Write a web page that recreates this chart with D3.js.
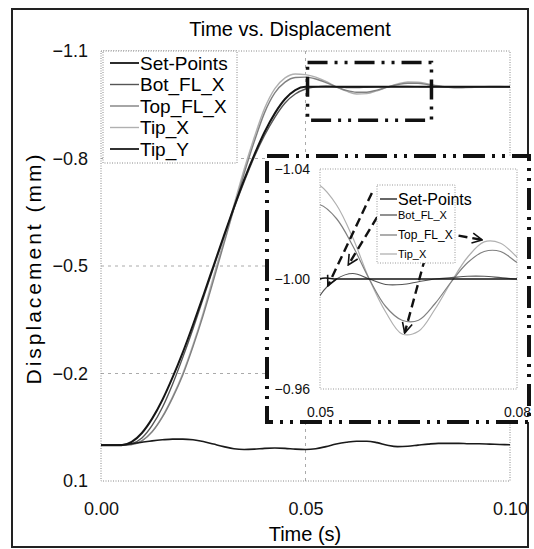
<!DOCTYPE html>
<html>
<head>
<meta charset="utf-8">
<script src="https://cdn.jsdelivr.net/npm/d3@7"></script>
<style>
  body { margin: 0; background: #fff; }
  svg { font-family: "Liberation Sans", Arial, sans-serif; }
</style>
</head>
<body>
<svg id="chart"></svg>
<script>
// time samples (s)
const times = [0, 0.0025, 0.005, 0.0075, 0.01, 0.0125, 0.015, 0.0175, 0.02, 0.0225,
  0.025, 0.0275, 0.03, 0.0325, 0.035, 0.0375, 0.04, 0.0425, 0.045, 0.0475,
  0.05, 0.0525, 0.055, 0.0575, 0.06, 0.0625, 0.065, 0.0675, 0.07, 0.0725,
  0.075, 0.0775, 0.08, 0.0825, 0.085, 0.0875, 0.09, 0.0925, 0.095, 0.0975, 0.1]

// displacement (mm) per series
const setPoints = [0, 0, 0, -0.009, -0.034, -0.074, -0.126, -0.189, -0.259, -0.336,
  -0.417, -0.5, -0.583, -0.664, -0.741, -0.811, -0.874, -0.926, -0.966, -0.991,
  -1.0, -1.0, -1.0, -1.0, -1.0, -1.0, -1.0, -1.0, -1.0, -1.0,
  -1.0, -1.0, -1.0, -1.0, -1.0, -1.0, -1.0, -1.0, -1.0, -1.0, -1.0]
const botFLX = [0, 0, 0, -0.004, -0.02, -0.055, -0.105, -0.17, -0.245, -0.325,
  -0.41, -0.495, -0.58, -0.66, -0.735, -0.805, -0.865, -0.915, -0.955, -0.98,
  -0.994, -1.0, -1.002, -1.0, -0.998, -0.998, -0.999, -1.0, -1.0005, -1.001,
  -1.001, -1.0005, -1.0, -1.0, -1.0, -1.0, -1.0, -1.0, -1.0, -1.0, -1.0]
const topFLX = [0, 0, 0, -0.002, -0.012, -0.037, -0.078, -0.132, -0.196, -0.275,
  -0.363, -0.46, -0.56, -0.66, -0.758, -0.848, -0.928, -0.983, -1.013, -1.026,
  -1.027, -1.022, -1.012, -1.0, -0.99, -0.985, -0.985, -0.991, -0.999, -1.006,
  -1.01, -1.01, -1.006, -1.002, -0.999, -0.998, -0.999, -1.0, -1.0005, -1.0, -1.0]
const tipX = [0, 0, 0, -0.002, -0.012, -0.038, -0.08, -0.135, -0.2, -0.28,
  -0.37, -0.47, -0.57, -0.67, -0.77, -0.86, -0.94, -0.995, -1.025, -1.036,
  -1.034, -1.027, -1.015, -1.0, -0.988, -0.98, -0.981, -0.989, -0.999, -1.008,
  -1.0135, -1.013, -1.008, -1.003, -0.999, -0.997, -0.998, -1.0, -1.001, -1.001, -1.0]
const tipY = [0, 0, -0.001, -0.004, -0.008, -0.012, -0.015, -0.017, -0.017, -0.015,
  -0.01, -0.003, 0.004, 0.01, 0.012, 0.011, 0.009, 0.008, 0.009, 0.011,
  0.012, 0.01, 0.004, -0.003, -0.008, -0.011, -0.011, -0.007, 0.0, 0.004,
  0.003, 0.0, -0.003, -0.005, -0.005, -0.005, -0.004, -0.004, -0.003, -0.002, -0.001]

const seriesNames = ["Set-Points", "Bot_FL_X", "Top_FL_X", "Tip_X", "Tip_Y"]
const seriesValues = [setPoints, botFLX, topFLX, tipX, tipY]
const seriesColors = ["#151515", "#555", "#808080", "#b0b0b0", "#1a1a1a"]
const seriesWidths = [2, 1.4, 1.4, 1.4, 1.6]

const xTicks = [0, 0.05, 0.1]
const yTicks = [-1.1, -0.8, -0.5, -0.2, 0.1]
const xGrid = [0.05]
const yGrid = [-0.8, -0.5, -0.2]

// zoomed view
const insetXDomain = [0.05, 0.08]
const insetYDomain = [-1.04, -0.96]
const insetXTicks = [0.05, 0.08]
const insetYTicks = [-1.04, -1.00, -0.96]
const insetNames = ["Set-Points", "Bot_FL_X", "Top_FL_X", "Tip_X"]
// region marked on the main plot [t0, t1, y0, y1]
const zoomRegion = [0.0505, 0.0808, -1.068, -0.907]
// arrows in the inset: [t from, value from, t to, value to]
const arrows = [
  [0.0579, -1.0313, 0.0512, -0.9975],
  [0.0587, -1.0225, 0.0543, -1.0051],
  [0.0690, -1.0167, 0.0747, -1.0142],
  [0.0660, -1.0076, 0.0629, -0.9804]
]

var dimensions = {
  width: 534,
  height: 549,
  margin: { top: 51, bottom: 68, right: 24, left: 101 }
}
dimensions.boundedWidth = dimensions.width - dimensions.margin.left - dimensions.margin.right
dimensions.boundedHeight = dimensions.height - dimensions.margin.top - dimensions.margin.bottom

var inset = { left: 320, top: 169, width: 197, height: 220 }
var insetFrame = { x: 267, y: 156, width: 262, height: 266 }

var rows = times.map((t, i) => ({ t: t, v: seriesValues.map(s => s[i]) }))

var xScale = d3.scaleLinear().domain([0, 0.1]).range([0, dimensions.boundedWidth])
var yScale = d3.scaleLinear().domain([-1.1, 0.1]).range([0, dimensions.boundedHeight])

var svg = d3.select("#chart")
  .attr("width", dimensions.width)
  .attr("height", dimensions.height)

// outer frame
svg.append("rect")
  .attr("x", 12).attr("y", 9)
  .attr("width", 516).attr("height", 538)
  .attr("fill", "none")
  .attr("stroke", "#222")
  .attr("stroke-width", 2)

svg.append("text")
  .attr("x", 290).attr("y", 36)
  .attr("text-anchor", "middle")
  .style("font-size", "20px")
  .text("Time vs. Displacement")

var bounds = svg.append("g")
  .attr("transform", `translate(${dimensions.margin.left},${dimensions.margin.top})`)

// grid
bounds.selectAll(".ygrid").data(yGrid).enter().append("line")
  .attr("x1", 0).attr("x2", dimensions.boundedWidth)
  .attr("y1", d => yScale(d)).attr("y2", d => yScale(d))
  .attr("stroke", "#aaa").attr("stroke-dasharray", "3,4")
bounds.selectAll(".xgrid").data(xGrid).enter().append("line")
  .attr("y1", 0).attr("y2", dimensions.boundedHeight)
  .attr("x1", d => xScale(d)).attr("x2", d => xScale(d))
  .attr("stroke", "#aaa").attr("stroke-dasharray", "3,4")

bounds.append("rect")
  .attr("width", dimensions.boundedWidth)
  .attr("height", dimensions.boundedHeight)
  .attr("fill", "none")
  .attr("stroke", "#888")
  .attr("stroke-dasharray", "1,1.5")

// draw order: light first, dark on top
var drawOrder = [3, 2, 1, 4, 0]
drawOrder.forEach(k => {
  bounds.append("path")
    .datum(rows)
    .attr("fill", "none")
    .attr("stroke", seriesColors[k])
    .attr("stroke-width", seriesWidths[k])
    .attr("d", d3.line()
      .x(d => xScale(d.t))
      .y(d => yScale(d.v[k]))
      .curve(d3.curveMonotoneX))
})

// dash-dot box around the zoomed region
bounds.append("rect")
  .attr("x", xScale(zoomRegion[0]))
  .attr("y", yScale(zoomRegion[2]))
  .attr("width", xScale(zoomRegion[1]) - xScale(zoomRegion[0]))
  .attr("height", yScale(zoomRegion[3]) - yScale(zoomRegion[2]))
  .attr("fill", "none")
  .attr("stroke", "#111")
  .attr("stroke-width", 3.5)
  .attr("stroke-dasharray", "20,7,3,7,3,7")

// axes
var yAxis = d3.axisLeft(yScale).tickValues(yTicks).tickSize(0).tickPadding(13)
  .tickFormat(d3.format(".1f"))
var xAxis = d3.axisBottom(xScale).tickValues(xTicks).tickSize(0).tickPadding(21)
  .tickFormat(d3.format(".2f"))

bounds.append("g").call(yAxis)
  .call(g => g.select(".domain").remove())
  .selectAll("text").style("font-size", "18px").attr("fill", "#111")
bounds.append("g")
  .attr("transform", `translate(0,${dimensions.boundedHeight})`)
  .call(xAxis)
  .call(g => g.select(".domain").remove())
  .selectAll("text").style("font-size", "18px").attr("fill", "#111")

svg.append("text")
  .attr("transform", "translate(33,268) rotate(-90)")
  .attr("text-anchor", "middle")
  .attr("dominant-baseline", "central")
  .style("font-size", "21px")
  .style("letter-spacing", "3px")
  .text("Displacement (mm)")

svg.append("text")
  .attr("x", 305).attr("y", 541)
  .attr("text-anchor", "middle")
  .style("font-size", "20px")
  .text("Time (s)")

// main legend
var legend = svg.append("g").attr("transform", "translate(103,51)")
legend.append("rect")
  .attr("width", 134).attr("height", 112)
  .attr("fill", "#fff")
  .attr("stroke", "#888")
  .attr("stroke-dasharray", "1,1.5")
seriesNames.forEach((name, i) => {
  var y = 12 + i * 21.5
  legend.append("line")
    .attr("x1", 7).attr("x2", 36).attr("y1", y).attr("y2", y)
    .attr("stroke", seriesColors[i])
    .attr("stroke-width", i == 0 || i == 4 ? 1.8 : 1.4)
  legend.append("text")
    .attr("x", 37).attr("y", y)
    .attr("dominant-baseline", "central")
    .style("font-size", "19px")
    .text(name)
})

// inset
svg.append("rect")
  .attr("x", insetFrame.x).attr("y", insetFrame.y)
  .attr("width", insetFrame.width).attr("height", insetFrame.height)
  .attr("fill", "#fff")
  .attr("stroke", "#111")
  .attr("stroke-width", 4)
  .attr("stroke-dasharray", "22,7,3,7,3,7")

var ix = d3.scaleLinear().domain(insetXDomain).range([0, inset.width])
var iy = d3.scaleLinear().domain(insetYDomain).range([0, inset.height])

var ib = svg.append("g").attr("transform", `translate(${inset.left},${inset.top})`)

svg.append("defs").append("clipPath").attr("id", "insetClip")
  .append("rect").attr("width", inset.width).attr("height", inset.height)

ib.append("rect")
  .attr("width", inset.width).attr("height", inset.height)
  .attr("fill", "none")
  .attr("stroke", "#999")
  .attr("stroke-dasharray", "1,1.5")

var insetRows = rows.filter(d => d.t >= 0.045 && d.t <= 0.085)
var insetLines = ib.append("g").attr("clip-path", "url(#insetClip)")
;[3, 2, 1, 0].forEach(k => {
  insetLines.append("path")
    .datum(insetRows)
    .attr("fill", "none")
    .attr("stroke", seriesColors[k])
    .attr("stroke-width", k == 0 ? 1.6 : 1.2)
    .attr("d", d3.line()
      .x(d => ix(d.t))
      .y(d => iy(d.v[k]))
      .curve(d3.curveCatmullRom))
})

ib.append("g").call(d3.axisLeft(iy).tickValues(insetYTicks).tickSize(0).tickPadding(10)
    .tickFormat(d3.format(".2f")))
  .call(g => g.select(".domain").remove())
  .selectAll("text").style("font-size", "14px").attr("fill", "#111")
ib.append("g")
  .attr("transform", `translate(0,${inset.height})`)
  .call(d3.axisBottom(ix).tickValues(insetXTicks).tickSize(0).tickPadding(18)
    .tickFormat(d3.format(".2f")))
  .call(g => g.select(".domain").remove())
  .selectAll("text").style("font-size", "14px").attr("fill", "#111")

// inset legend
var il = svg.append("g").attr("transform", "translate(377,185)")
il.append("rect")
  .attr("width", 78).attr("height", 78)
  .attr("fill", "#fff")
  .attr("stroke", "#999")
  .attr("stroke-dasharray", "1,1.5")
var insetFont = [16, 11, 12, 11]
var insetRowY = [14, 30, 50, 69]
insetNames.forEach((name, i) => {
  il.append("line")
    .attr("x1", 3).attr("x2", 20)
    .attr("y1", insetRowY[i]).attr("y2", insetRowY[i])
    .attr("stroke", seriesColors[i])
    .attr("stroke-width", 1.3)
  il.append("text")
    .attr("x", 21).attr("y", insetRowY[i])
    .attr("dominant-baseline", "central")
    .style("font-size", insetFont[i] + "px")
    .text(name)
})

// dashed arrows
svg.select("defs").append("marker")
  .attr("id", "arrowHead")
  .attr("viewBox", "0 0 12 12")
  .attr("refX", 11).attr("refY", 6)
  .attr("markerWidth", 12).attr("markerHeight", 12)
  .attr("markerUnits", "userSpaceOnUse")
  .attr("orient", "auto")
  .append("path")
  .attr("d", "M1,1 L11,6 L1,11")
  .attr("fill", "none")
  .attr("stroke", "#111")
  .attr("stroke-width", 1.6)

ib.selectAll(".arrow").data(arrows).enter().append("line")
  .attr("x1", d => ix(d[0])).attr("y1", d => iy(d[1]))
  .attr("x2", d => ix(d[2])).attr("y2", d => iy(d[3]))
  .attr("stroke", "#111")
  .attr("stroke-width", 2.4)
  .attr("stroke-dasharray", "9,5")
  .attr("marker-end", "url(#arrowHead)")
</script>
</body>
</html>
